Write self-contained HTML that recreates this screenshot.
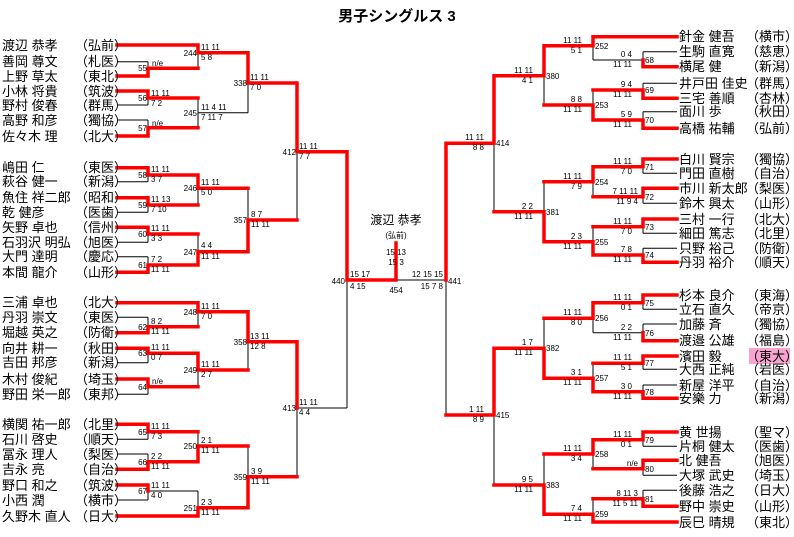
<!DOCTYPE html>
<html><head><meta charset="utf-8"><style>
html,body{margin:0;padding:0;background:#fff;}
svg{display:block;}
.n{font-family:"Liberation Sans","Noto Sans CJK JP",sans-serif;font-size:13px;fill:#000;}
.s{font-family:"Liberation Sans",sans-serif;font-size:8px;fill:#000;}
.t{font-family:"Liberation Sans","Noto Sans CJK JP",sans-serif;font-size:15px;font-weight:bold;}
</style></head><body>
<svg width="794" height="537" viewBox="0 0 794 537" xmlns="http://www.w3.org/2000/svg">
<rect width="794" height="537" fill="#fff"/>
<text class="t" x="397" y="21" text-anchor="middle">男子シングルス 3</text>
<rect x="749" y="348" width="41" height="16" fill="#f7a4cf"/>

<g stroke="#000" stroke-width="1" fill="none">
<!-- left players -->
<path d="M117 45H198M117 61.7H148M117 76H148M117 91H148M117 105H148M117 120H148M117 136H148
M117 167.7H148M117 181.7H148M117 197.7H148M117 212.3H148M117 227.3H148M117 242.3H148M117 256.7H148M117 272.3H148
M117 302.7H198M117 317.3H148M117 332.7H148M117 348.3H148M117 362.7H148M117 379H148M117 394.3H148
M117 424.3H148M117 439.3H148M117 454H148M117 469.3H148M117 485H148M117 500H148M117 516H198"/>
<path d="M148 61.7V76M148 91V105M148 120V136M148 167.7V181.7M148 197.7V212.3M148 227.3V242.3M148 256.7V272.3M148 317.3V332.7M148 348.3V362.7M148 379V394.3M148 424.3V439.3M148 454V469.3M148 485V500"/>
<path d="M148 68.3H198M148 98H198M148 127.7H198M148 175H198M148 205H198M148 234H198M148 265H198M148 326.7H198M148 353.3H198M148 386.7H198M148 431.7H198M148 461.7H198M148 491H198"/>
<path d="M198 45V68.3M198 98V127.7M198 175V205M198 234V265M198 302.7V326.7M198 353.3V386.7M198 431.7V461.7M198 491V516"/>
<path d="M198 52.7H248M198 112.7H248M198 188.3H248M198 251.7H248M198 311.7H248M198 370H248M198 446H248M198 507.7H248"/>
<path d="M248 52.7V112.7M248 188.3V251.7M248 311.7V370M248 446V507.7"/>
<path d="M248 83H297M248 220H297M248 341.7H297M248 476.7H297M297 83V220M297 341.7V476.7M297 151.7H347M297 408H347M347 151.7V408M347 280H446"/>
<!-- right -->
<path d="M677 36.7H593M677 51.7H643M677 66.7H643M677 83.3H643M677 98.3H643M677 111.7H643M677 128.3H643
M677 159H643M677 173.3H643M677 188.3H643M677 203.3H643M677 219H643M677 233.3H643M677 248.3H643M677 262.3H643
M677 295H643M677 309.3H643M677 324H643M677 340.7H643M677 356H643M677 369.3H643M677 385H643M677 398.3H643
M677 432H643M677 446.3H643M677 460.3H643M677 475.3H643M677 490.3H643M677 506.3H643M677 522H593"/>
<path d="M643 51.7V66.7M643 83.3V98.3M643 111.7V128.3M643 159V173.3M643 188.3V203.3M643 219V233.3M643 248.3V262.3M643 295V309.3M643 324V340.7M643 356V369.3M643 385V398.3M643 432V446.3M643 460.3V475.3M643 490.3V506.3"/>
<path d="M643 60H593M643 90H593M643 120H593M643 166.7H593M643 196.7H593M643 226.7H593M643 255H593M643 302.7H593M643 332.7H593M643 363.3H593M643 391.7H593M643 439.7H593M643 468.7H593M643 498.7H593"/>
<path d="M593 36.7V60M593 90V120M593 166.7V196.7M593 226.7V255M593 302.7V332.7M593 363.3V391.7M593 439.7V468.7M593 498.7V522"/>
<path d="M593 45.7H544M593 105H544M593 181.7H544M593 241.7H544M593 318.3H544M593 378.3H544M593 454H544M593 514.3H544"/>
<path d="M544 45.7V105M544 181.7V241.7M544 318.3V378.3M544 454V514.3"/>
<path d="M544 75.7H494M544 211.7H494M544 348.3H494M544 485H494M494 75.7V211.7M494 348.3V485M494 143.3H446M494 415H446M446 143.3V415"/>
</g>

<g stroke="#f00" stroke-width="3.5" fill="none" stroke-linejoin="miter" stroke-linecap="square">
<path d="M117 45H198V52.7H248V83H297V151.7H347V280H396V243"/>
<path d="M117 76H148V68.3H198"/>
<path d="M117 91H148V98H198"/>
<path d="M117 136H148V127.7H198"/>
<path d="M117 167.7H148V175H198V188.3H248"/>
<path d="M117 197.7H148V205H198"/>
<path d="M117 227.3H148V234H198"/>
<path d="M117 272.3H148V265H198V251.7H248V220H297"/>
<path d="M117 302.7H198V311.7H248V341.7H297V408"/>
<path d="M117 332.7H148V326.7H198"/>
<path d="M117 348.3H148V353.3H198V370H248"/>
<path d="M117 379H148V386.7H198"/>
<path d="M117 424.3H148V431.7H198"/>
<path d="M117 469.3H148V461.7H198V446H248"/>
<path d="M117 485H148V491"/>
<path d="M117 516H198V507.7H248V476.7H297"/>

<path d="M677 36.7H593V45.7H544V75.7H494V143.3H446V280"/>
<path d="M677 66.7H643V60"/>
<path d="M677 98.3H643V90H593"/>
<path d="M677 128.3H643V120H593V105H544"/>
<path d="M677 159H643V166.7H593V181.7H544"/>
<path d="M677 188.3H643V196.7H593"/>
<path d="M677 219H643V226.7H593"/>
<path d="M677 262.3H643V255H593V241.7H544V211.7H494"/>
<path d="M677 295H643V302.7H593V318.3H544"/>
<path d="M677 340.7H643V332.7"/>
<path d="M677 356H643V363.3H593"/>
<path d="M677 398.3H643V391.7H593V378.3H544V348.3H494V415H446"/>
<path d="M677 432H643V439.7H593V454H544"/>
<path d="M677 460.3H643V468.7H593"/>
<path d="M677 506.3H643V498.7H593"/>
<path d="M677 522H593V514.3H544V485H494"/>
</g>

<!-- left names -->
<g class="n">
<text x="2" y="50">渡辺 恭孝</text><text x="75" y="50">（弘前）</text>
<text x="2" y="66">善岡 尊文</text><text x="75" y="66">（札医）</text>
<text x="2" y="81">上野 草太</text><text x="75" y="81">（東北）</text>
<text x="2" y="96">小林 将貴</text><text x="75" y="96">（筑波）</text>
<text x="2" y="110">野村 俊春</text><text x="75" y="110">（群馬）</text>
<text x="2" y="125">高野 和彦</text><text x="75" y="125">（獨協）</text>
<text x="2" y="141">佐々木 理</text><text x="75" y="141">（北大）</text>
<text x="2" y="172">嶋田 仁</text><text x="75" y="172">（東医）</text>
<text x="2" y="186">萩谷 健一</text><text x="75" y="186">（新潟）</text>
<text x="2" y="202">魚住 祥二郎</text><text x="75" y="202">（昭和）</text>
<text x="2" y="217">乾 健彦</text><text x="75" y="217">（医歯）</text>
<text x="2" y="232">矢野 卓也</text><text x="75" y="232">（信州）</text>
<text x="2" y="247">石羽沢 明弘</text><text x="75" y="247">（旭医）</text>
<text x="2" y="261">大門 達明</text><text x="75" y="261">（慶応）</text>
<text x="2" y="277">本間 龍介</text><text x="75" y="277">（山形）</text>
<text x="2" y="307">三浦 卓也</text><text x="75" y="307">（北大）</text>
<text x="2" y="322">丹羽 崇文</text><text x="75" y="322">（東医）</text>
<text x="2" y="337">堀越 英之</text><text x="75" y="337">（防衛）</text>
<text x="2" y="353">向井 耕一</text><text x="75" y="353">（秋田）</text>
<text x="2" y="367">吉田 邦彦</text><text x="75" y="367">（新潟）</text>
<text x="2" y="384">木村 俊紀</text><text x="75" y="384">（埼玉）</text>
<text x="2" y="399">野田 栄一郎</text><text x="75" y="399">（東邦）</text>
<text x="2" y="429">横関 祐一郎</text><text x="75" y="429">（北里）</text>
<text x="2" y="444">石川 啓史</text><text x="75" y="444">（順天）</text>
<text x="2" y="459">冨永 理人</text><text x="75" y="459">（梨医）</text>
<text x="2" y="474">吉永 亮</text><text x="75" y="474">（自治）</text>
<text x="2" y="490">野口 和之</text><text x="75" y="490">（筑波）</text>
<text x="2" y="505">小西 潤</text><text x="75" y="505">（横市）</text>
<text x="2" y="521">久野木 直人</text><text x="75" y="521">（日大）</text>
</g>
<!-- right names -->
<g class="n">
<text x="679" y="41">針金 健吾</text><text x="746" y="41">（横市）</text>
<text x="679" y="56">生駒 直寛</text><text x="746" y="56">（慈恵）</text>
<text x="679" y="71">横尾 健</text><text x="746" y="71">（新潟）</text>
<text x="679" y="88">井戸田 佳史</text><text x="746" y="88">（群馬）</text>
<text x="679" y="103">三宅 善順</text><text x="746" y="103">（杏林）</text>
<text x="679" y="116">面川 歩</text><text x="746" y="116">（秋田）</text>
<text x="679" y="133">高橋 祐輔</text><text x="746" y="133">（弘前）</text>
<text x="679" y="164">白川 賢宗</text><text x="746" y="164">（獨協）</text>
<text x="679" y="178">門田 直樹</text><text x="746" y="178">（自治）</text>
<text x="679" y="193">市川 新太郎</text><text x="746" y="193">（梨医）</text>
<text x="679" y="208">鈴木 興太</text><text x="746" y="208">（山形）</text>
<text x="679" y="224">三村 一行</text><text x="746" y="224">（北大）</text>
<text x="679" y="238">細田 篤志</text><text x="746" y="238">（北里）</text>
<text x="679" y="253">只野 裕己</text><text x="746" y="253">（防衛）</text>
<text x="679" y="267">丹羽 裕介</text><text x="746" y="267">（順天）</text>
<text x="679" y="300">杉本 良介</text><text x="746" y="300">（東海）</text>
<text x="679" y="314">立石 直久</text><text x="746" y="314">（帝京）</text>
<text x="679" y="329">加藤 斉</text><text x="746" y="329">（獨協）</text>
<text x="679" y="345">渡邉 公雄</text><text x="746" y="345">（福島）</text>
<text x="679" y="361">濱田 毅</text><text x="746" y="361">（東大）</text>
<text x="679" y="374">大西 正純</text><text x="746" y="374">（岩医）</text>
<text x="679" y="390">新屋 洋平</text><text x="746" y="390">（自治）</text>
<text x="679" y="403">安樂 力</text><text x="746" y="403">（新潟）</text>
<text x="679" y="437">黄 世揚</text><text x="746" y="437">（聖マ）</text>
<text x="679" y="451">片桐 健太</text><text x="746" y="451">（医歯）</text>
<text x="679" y="465">北 健吾</text><text x="746" y="465">（旭医）</text>
<text x="679" y="480">大塚 武史</text><text x="746" y="480">（埼玉）</text>
<text x="679" y="495">後藤 浩之</text><text x="746" y="495">（日大）</text>
<text x="679" y="511">野中 崇史</text><text x="746" y="511">（山形）</text>
<text x="679" y="527">辰巳 晴規</text><text x="746" y="527">（東北）</text>
</g>

<!-- center -->
<text class="n" x="396" y="224" text-anchor="middle" style="font-size:12px">渡辺  恭孝</text>
<text class="s" x="396" y="238" text-anchor="middle">(弘前)</text>
<text class="s" x="396" y="255" text-anchor="middle">15 13</text>
<text class="s" x="396" y="265" text-anchor="middle">15  3</text>
<text class="s" x="396" y="293" text-anchor="middle">454</text>
<text class="s" x="345" y="284" text-anchor="end">440</text>
<text class="s" x="448" y="284">441</text>
<text class="s" x="350" y="277">15  17</text><text class="s" x="350" y="289">4  15</text>
<text class="s" x="443" y="277" text-anchor="end">12 15 15</text><text class="s" x="443" y="289" text-anchor="end">15  7  8</text>

<!-- left labels & scores -->
<g class="s">
<text x="147" y="71" text-anchor="end">55</text><text x="152" y="66">n/e</text>
<text x="147" y="101" text-anchor="end">56</text><text x="151" y="96">11 11</text><text x="151" y="106">7  2</text>
<text x="147" y="131" text-anchor="end">57</text><text x="152" y="126">n/e</text>
<text x="197" y="56" text-anchor="end">244</text><text x="201" y="50">11 11</text><text x="201" y="60">5  8</text>
<text x="197" y="116" text-anchor="end">245</text><text x="201" y="110">11 4 11</text><text x="201" y="120">7 11 7</text>
<text x="247" y="86" text-anchor="end">338</text><text x="250" y="80">11 11</text><text x="250" y="90">7  0</text>
<text x="147" y="178" text-anchor="end">58</text><text x="151" y="172">11 11</text><text x="151" y="182">3  7</text>
<text x="147" y="208" text-anchor="end">59</text><text x="151" y="202">11 13</text><text x="151" y="212">7 10</text>
<text x="147" y="237" text-anchor="end">60</text><text x="151" y="231">11 11</text><text x="151" y="241">3  3</text>
<text x="147" y="268" text-anchor="end">61</text><text x="151" y="262">7  2</text><text x="151" y="272">11 11</text>
<text x="197" y="191" text-anchor="end">246</text><text x="201" y="185">11 11</text><text x="201" y="195">5  0</text>
<text x="197" y="255" text-anchor="end">247</text><text x="201" y="248">4  4</text><text x="201" y="259">11 11</text>
<text x="247" y="223" text-anchor="end">357</text><text x="251" y="217">8  7</text><text x="251" y="227">11 11</text>
<text x="296" y="155" text-anchor="end">412</text><text x="299" y="149">11 11</text><text x="299" y="159">7  7</text>
<text x="147" y="330" text-anchor="end">62</text><text x="151" y="324">8  2</text><text x="151" y="334">11 11</text>
<text x="147" y="356" text-anchor="end">63</text><text x="151" y="350">11 11</text><text x="151" y="360">0  7</text>
<text x="147" y="390" text-anchor="end">64</text><text x="152" y="384">n/e</text>
<text x="197" y="315" text-anchor="end">248</text><text x="201" y="309">11 11</text><text x="201" y="319">7  0</text>
<text x="197" y="373" text-anchor="end">249</text><text x="201" y="367">11 11</text><text x="201" y="377">2  7</text>
<text x="247" y="345" text-anchor="end">358</text><text x="250" y="339">13 11</text><text x="250" y="349">12  8</text>
<text x="296" y="411" text-anchor="end">413</text><text x="299" y="405">11 11</text><text x="299" y="415">4  4</text>
<text x="147" y="435" text-anchor="end">65</text><text x="151" y="429">11 11</text><text x="151" y="439">7  3</text>
<text x="147" y="465" text-anchor="end">66</text><text x="151" y="459">2  2</text><text x="151" y="469">11 11</text>
<text x="147" y="494" text-anchor="end">67</text><text x="151" y="488">11 11</text><text x="151" y="498">4  0</text>
<text x="197" y="449" text-anchor="end">250</text><text x="201" y="443">2  1</text><text x="201" y="453">11 11</text>
<text x="197" y="511" text-anchor="end">251</text><text x="201" y="505">2  3</text><text x="201" y="515">11 11</text>
<text x="247" y="480" text-anchor="end">359</text><text x="251" y="474">3  9</text><text x="251" y="484">11 11</text>
</g>

<!-- right labels & scores -->
<g class="s">
<text x="645" y="63">68</text><text x="632" y="57" text-anchor="end">0  4</text><text x="632" y="67" text-anchor="end">11 11</text>
<text x="645" y="93">69</text><text x="632" y="87" text-anchor="end">9  4</text><text x="632" y="97" text-anchor="end">11 11</text>
<text x="645" y="123">70</text><text x="632" y="117" text-anchor="end">5  9</text><text x="632" y="127" text-anchor="end">11 11</text>
<text x="595" y="49">252</text><text x="582" y="43" text-anchor="end">11 11</text><text x="582" y="53" text-anchor="end">5  1</text>
<text x="595" y="108">253</text><text x="582" y="102" text-anchor="end">8  8</text><text x="582" y="112" text-anchor="end">11 11</text>
<text x="546" y="79">380</text><text x="533" y="73" text-anchor="end">11 11</text><text x="533" y="83" text-anchor="end">4  1</text>
<text x="496" y="146">414</text><text x="484" y="140" text-anchor="end">11 11</text><text x="484" y="150" text-anchor="end">8  8</text>
<text x="645" y="170">71</text><text x="632" y="164" text-anchor="end">11 11</text><text x="632" y="174" text-anchor="end">7  0</text>
<text x="645" y="200">72</text><text x="638" y="194" text-anchor="end">7 11 11</text><text x="638" y="204" text-anchor="end">11 9 4</text>
<text x="645" y="230">73</text><text x="632" y="224" text-anchor="end">11 11</text><text x="632" y="234" text-anchor="end">7  0</text>
<text x="645" y="258">74</text><text x="632" y="252" text-anchor="end">7  8</text><text x="632" y="262" text-anchor="end">11 11</text>
<text x="595" y="185">254</text><text x="582" y="179" text-anchor="end">11 11</text><text x="582" y="189" text-anchor="end">7  9</text>
<text x="595" y="245">255</text><text x="582" y="239" text-anchor="end">2  3</text><text x="582" y="249" text-anchor="end">11 11</text>
<text x="546" y="215">381</text><text x="533" y="209" text-anchor="end">2  2</text><text x="533" y="219" text-anchor="end">11 11</text>
<text x="645" y="306">75</text><text x="632" y="300" text-anchor="end">11 11</text><text x="632" y="310" text-anchor="end">0  1</text>
<text x="645" y="336">76</text><text x="632" y="330" text-anchor="end">2  2</text><text x="632" y="340" text-anchor="end">11 11</text>
<text x="645" y="366">77</text><text x="632" y="360" text-anchor="end">11 11</text><text x="632" y="370" text-anchor="end">5  1</text>
<text x="645" y="395">78</text><text x="632" y="389" text-anchor="end">3  0</text><text x="632" y="399" text-anchor="end">11 11</text>
<text x="595" y="321">256</text><text x="582" y="315" text-anchor="end">11 11</text><text x="582" y="325" text-anchor="end">8  0</text>
<text x="595" y="381">257</text><text x="582" y="375" text-anchor="end">3  1</text><text x="582" y="385" text-anchor="end">11 11</text>
<text x="546" y="351">382</text><text x="533" y="345" text-anchor="end">1  7</text><text x="533" y="355" text-anchor="end">11 11</text>
<text x="496" y="418">415</text><text x="484" y="412" text-anchor="end">1 11</text><text x="484" y="422" text-anchor="end">8  9</text>
<text x="645" y="443">79</text><text x="632" y="437" text-anchor="end">11 11</text><text x="632" y="447" text-anchor="end">0  1</text>
<text x="645" y="472">80</text><text x="638" y="466" text-anchor="end">n/e</text>
<text x="645" y="502">81</text><text x="638" y="496" text-anchor="end">8 11 3</text><text x="638" y="506" text-anchor="end">11 5 11</text>
<text x="595" y="457">258</text><text x="582" y="451" text-anchor="end">11 11</text><text x="582" y="461" text-anchor="end">3  4</text>
<text x="595" y="517">259</text><text x="582" y="511" text-anchor="end">7  4</text><text x="582" y="521" text-anchor="end">11 11</text>
<text x="546" y="488">383</text><text x="533" y="482" text-anchor="end">9  5</text><text x="533" y="492" text-anchor="end">11 11</text>
</g>
</svg>
</body></html>
